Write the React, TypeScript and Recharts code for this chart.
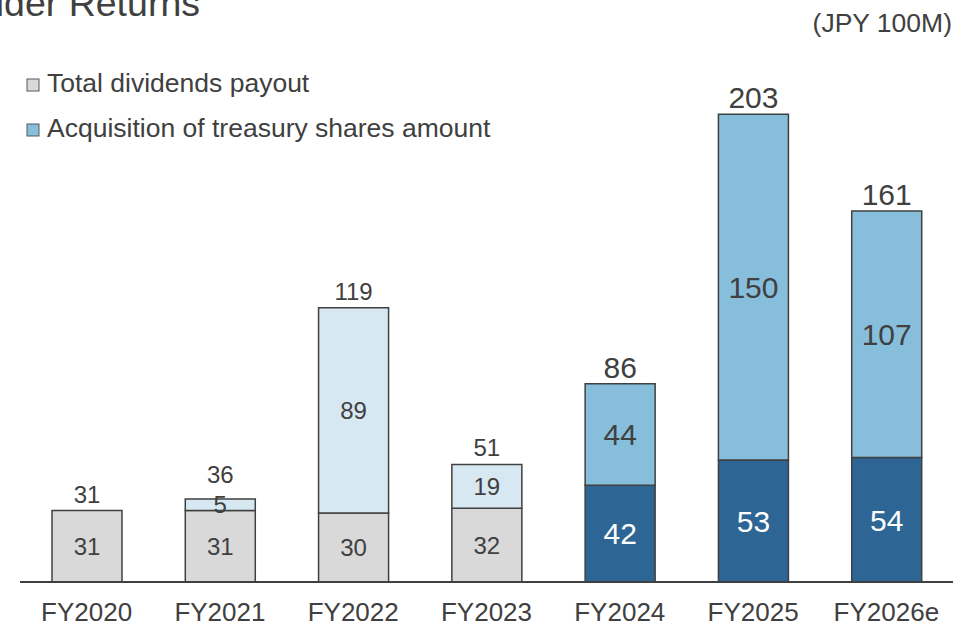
import React from 'react';
import { BarChart, Bar, XAxis, YAxis, Cell, LabelList } from 'recharts';

const categories = ['FY2020', 'FY2021', 'FY2022', 'FY2023', 'FY2024', 'FY2025', 'FY2026e'];
const dividends = [31, 31, 30, 32, 42, 53, 54];
const treasury = [0, 5, 89, 19, 44, 150, 107];
const totals = [31, 36, 119, 51, 86, 203, 161];
const seriesNames = ['Total dividends payout', 'Acquisition of treasury shares amount'];
const recentFrom = 4;

const data = categories.map((name, i) => ({
  name,
  dividends: dividends[i],
  treasury: treasury[i],
  total: totals[i],
}));

const TEXT = '#404040';
const BORDER = '#404040';
const GRAY = '#d9d9d9';
const LIGHT_BLUE = '#d7e8f3';
const MID_BLUE = '#87bedb';
const DARK_BLUE = '#2d6594';
const FONT = '"Liberation Sans", Arial, sans-serif';
const legendColors = [GRAY, MID_BLUE];

const isRecent = (i: number) => i >= recentFrom;

const totalText = (x: number, y: number, width: number, segHeight: number, index: number) => {
  const recent = isRecent(index);
  const fs = recent ? 30 : 24;
  const gap = segHeight > 0 && segHeight < 20 ? 16 : recent ? 6 : 8;
  return (
    <text x={x + width / 2} y={y - gap} textAnchor="middle" fontSize={fs} fontFamily={FONT} fill={TEXT}>
      {totals[index]}
    </text>
  );
};

const segText = (x: number, y: number, width: number, height: number, value: number, index: number, color: string) => {
  const fs = isRecent(index) ? 30 : 24;
  return (
    <text
      x={x + width / 2}
      y={y + height / 2 + fs * 0.36}
      textAnchor="middle"
      fontSize={fs}
      fontFamily={FONT}
      fill={color}
    >
      {value}
    </text>
  );
};

const DividendLabel = (props: any) => {
  const { x, y, width, height, value } = props;
  const i = categories.indexOf(value);
  if (i < 0) return null;
  return (
    <g>
      {segText(x, y, width, height, dividends[i], i, isRecent(i) ? '#ffffff' : TEXT)}
      {!treasury[i] ? totalText(x, y, width, 0, i) : null}
    </g>
  );
};

const TreasuryLabel = (props: any) => {
  const { x, y, width, height, value } = props;
  const i = categories.indexOf(value);
  if (i < 0 || !treasury[i]) return null;
  return (
    <g>
      {segText(x, y, width, height, treasury[i], i, TEXT)}
      {totalText(x, y, width, height, i)}
    </g>
  );
};

const XTick = (props: any) => {
  const { x, payload } = props;
  return (
    <text x={x} y={621} textAnchor="middle" fontSize={26} fontFamily={FONT} fill={TEXT}>
      {payload.value}
    </text>
  );
};

export default function App() {
  return (
    <div style={{ position: 'absolute', left: 0, top: 0, width: 979, height: 630, background: '#fff' }}>
      <BarChart
        width={979}
        height={630}
        data={data}
        margin={{ top: 6, right: 26, bottom: 0, left: 20 }}
      >
        <XAxis
          dataKey="name"
          height={48}
          axisLine={{ stroke: BORDER, strokeWidth: 2 }}
          tickLine={false}
          tick={<XTick />}
          interval={0}
        />
        <YAxis hide domain={[0, 250]} />
        <Bar
          dataKey="dividends"
          name={seriesNames[0]}
          stackId="a"
          fill={GRAY}
          barSize={70}
          isAnimationActive={false}
        >
          {data.map((d, i) => (
            <Cell key={d.name} fill={isRecent(i) ? DARK_BLUE : GRAY} stroke={BORDER} strokeWidth={1.5} />
          ))}
          <LabelList dataKey="name" content={<DividendLabel />} />
        </Bar>
        <Bar
          dataKey="treasury"
          name={seriesNames[1]}
          stackId="a"
          fill={MID_BLUE}
          barSize={70}
          isAnimationActive={false}
        >
          {data.map((d, i) => (
            <Cell key={d.name} fill={isRecent(i) ? MID_BLUE : LIGHT_BLUE} stroke={BORDER} strokeWidth={1.5} />
          ))}
          <LabelList dataKey="name" content={<TreasuryLabel />} />
        </Bar>
      </BarChart>
      <svg
        width={979}
        height={630}
        style={{ position: 'absolute', left: 0, top: 0, pointerEvents: 'none' }}
      >
        <text x={200} y={16} textAnchor="end" fontSize={37.5} fontFamily={FONT} fill={TEXT}>
          Shareholder Returns
        </text>
        <text x={952} y={32} textAnchor="end" fontSize={26.5} fontFamily={FONT} fill={TEXT}>
          (JPY 100M)
        </text>
        {seriesNames.map((n, i) => (
          <g key={n}>
            <rect x={27} y={79 + i * 45} width={12} height={12} fill={legendColors[i]} stroke="#595959" strokeWidth={1} />
            <text x={47} y={92 + i * 45} fontSize={26.5} fontFamily={FONT} fill={TEXT}>
              {n}
            </text>
          </g>
        ))}
      </svg>
    </div>
  );
}
